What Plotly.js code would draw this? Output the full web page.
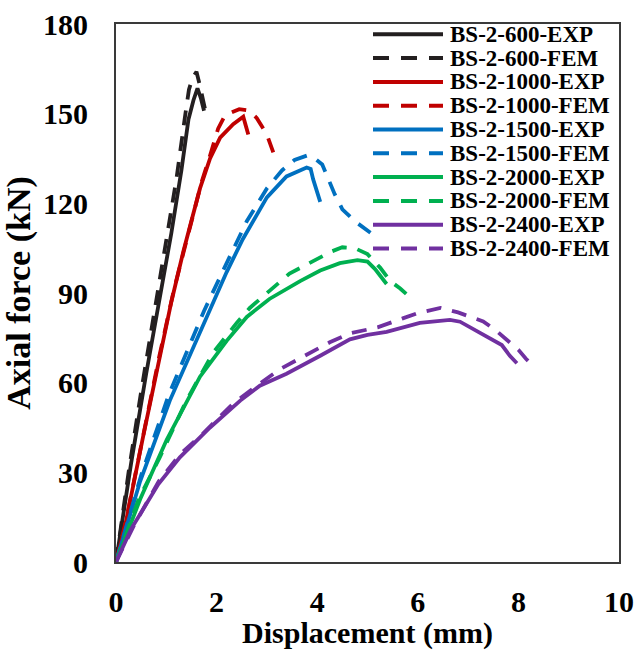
<!DOCTYPE html>
<html><head><meta charset="utf-8">
<script src="https://cdn.plot.ly/plotly-3.0.1.min.js"></script>
<style>html,body{margin:0;padding:0;background:#fff}</style>
</head><body><div id="chart" style="width:635px;height:650px"></div>
<script>
// ---- data (Displacement mm, Axial force kN) ----
const bs600ExpX = [0, 0.3, 0.6, 0.85, 1.1, 1.3, 1.44, 1.54, 1.62, 1.69, 1.75];
const bs600ExpY = [0, 33, 63, 86, 110, 131, 148, 154.5, 158.5, 155, 151];
const bs600FemX = [0, 0.25, 0.5, 0.78, 1.0, 1.2, 1.38, 1.45, 1.52, 1.6, 1.66, 1.72, 1.79];
const bs600FemY = [0, 30, 57, 85, 107, 128, 150, 158, 162, 164, 160, 155, 150];

const bs1000ExpX = [0, 0.18, 0.54, 0.81, 1.1, 1.34, 1.67, 1.87, 2.07, 2.33, 2.53, 2.58, 2.63];
const bs1000ExpY = [0, 12, 42, 64, 87, 104, 125, 135, 142, 146.5, 149, 146, 143];
const bs1000FemX = [0, 0.2, 0.55, 0.85, 1.15, 1.45, 1.7, 1.87, 2.03, 2.17, 2.45, 2.65, 2.8, 3.0, 3.17];
const bs1000FemY = [0, 14, 43, 68, 91, 111, 127, 136, 145, 149.5, 151.5, 151, 148.5, 143, 135];

const bs1500ExpX = [0, 0.48, 1.07, 1.77, 2.2, 2.52, 3.0, 3.39, 3.79, 3.87, 3.92, 4.06];
const bs1500ExpY = [0, 27, 54, 81, 97, 108, 122, 129, 132, 131.5, 128, 120.5];
const bs1500FemX = [0, 0.5, 1.05, 1.75, 2.2, 2.6, 3.0, 3.3, 3.55, 3.8, 3.95, 4.1, 4.2, 4.35, 4.5, 4.75, 5.15];
const bs1500FemY = [0, 29, 56, 84, 100, 114, 125, 131, 134.5, 136, 135, 133, 129, 123, 118, 114, 109];

const bs2000ExpX = [0, 0.48, 1.01, 1.67, 2.2, 2.6, 3.05, 3.66, 4.06, 4.45, 4.8, 5.0, 5.15, 5.38];
const bs2000ExpY = [0, 21, 41, 62, 74, 82, 88, 94, 97.5, 100, 101, 100.5, 98, 93];
const bs2000FemX = [0, 0.45, 0.87, 1.4, 1.93, 2.4, 2.66, 3.0, 3.45, 3.9, 4.3, 4.5, 4.75, 5.0, 5.25, 5.45, 5.65, 5.85];
const bs2000FemY = [0, 21, 35, 54, 70, 80, 85, 90, 96.5, 100.5, 104, 105.3, 105, 103, 98.5, 94, 91.5, 88.5];

const bs2400ExpX = [0, 0.3, 0.84, 1.27, 1.87, 2.47, 2.86, 3.39, 4.06, 4.65, 5.0, 5.38, 6.04, 6.64, 6.84, 7.24, 7.67, 7.83, 7.97];
const bs2400ExpY = [0, 11, 26, 35, 45, 54, 59, 63, 69, 74.5, 76, 77, 80, 81, 80.4, 76.5, 72.6, 69, 66.5];
const bs2400FemX = [0, 0.35, 0.85, 1.27, 1.67, 2.33, 2.8, 3.26, 3.72, 4.25, 4.65, 5.2, 5.7, 6.0, 6.45, 6.8, 7.05, 7.3, 7.55, 7.8, 8.0, 8.15, 8.33];
const bs2400FemY = [0, 12, 27, 36, 42, 53, 59, 64.5, 68.7, 73.5, 76.5, 78.5, 81.5, 83.3, 85, 83.5, 82, 80.5, 77.5, 74, 71, 68, 65];

const seriesNames = ['BS-2-600-EXP','BS-2-600-FEM','BS-2-1000-EXP','BS-2-1000-FEM','BS-2-1500-EXP','BS-2-1500-FEM','BS-2-2000-EXP','BS-2-2000-FEM','BS-2-2400-EXP','BS-2-2400-FEM'];
const seriesX = [bs600ExpX, bs600FemX, bs1000ExpX, bs1000FemX, bs1500ExpX, bs1500FemX, bs2000ExpX, bs2000FemX, bs2400ExpX, bs2400FemX];
const seriesY = [bs600ExpY, bs600FemY, bs1000ExpY, bs1000FemY, bs1500ExpY, bs1500FemY, bs2000ExpY, bs2000FemY, bs2400ExpY, bs2400FemY];
const seriesColors = ['#231f20','#231f20','#c00000','#c00000','#0070c0','#0070c0','#00b050','#00b050','#7030a0','#7030a0'];
const seriesDash = ['solid','15px,11px','solid','15px,11px','solid','15px,11px','solid','15px,11px','solid','15px,11px'];

const xTicks = [0, 2, 4, 6, 8, 10];
const yTicks = [0, 30, 60, 90, 120, 150, 180];

const FONT = 'Liberation Serif, Times New Roman, serif';

const traces = seriesNames.map((n, i) => ({
  type: 'scatter', mode: 'lines', name: n,
  x: seriesX[i], y: seriesY[i],
  line: {color: seriesColors[i], width: 3.8, dash: seriesDash[i]},
  showlegend: false
}));

// custom legend (text + swatches) placed in paper coords
const legTop = (562 - 34.3) / 538, legStep = 23.8 / 538;
const swX0 = (373 - 116) / 503, swX1 = (443 - 116) / 503, txX = (449 - 116) / 503;
const shapes = [], annotations = [];
seriesNames.forEach((n, i) => {
  const yy = legTop - i * legStep;
  shapes.push({type: 'line', xref: 'paper', yref: 'paper', x0: swX0, x1: swX1, y0: yy, y1: yy,
    line: {color: seriesColors[i], width: 4, dash: seriesDash[i] === 'solid' ? 'solid' : '16px,12px'}});
  annotations.push({xref: 'paper', yref: 'paper', x: txX, y: yy, xanchor: 'left', yanchor: 'middle',
    text: n, showarrow: false, borderpad: 0,
    font: {family: FONT, size: 23, color: '#000', weight: 'bold'}});
});

const layout = {
  width: 635, height: 650,
  margin: {l: 116, r: 16, t: 24, b: 88},
  paper_bgcolor: '#fff', plot_bgcolor: '#fff',
  showlegend: false,
  xaxis: {
    range: [0, 10], tickvals: xTicks, ticktext: xTicks.map(String),
    showgrid: false, zeroline: false, showline: true, mirror: true,
    linecolor: '#3a3a3a', linewidth: 2, ticks: '',
    ticklabelstandoff: 12,
    tickfont: {family: FONT, size: 30, color: '#000', weight: 'bold'},
    title: {text: 'Displacement (mm)', standoff: 0, font: {family: FONT, size: 30, color: '#000', weight: 'bold'}}
  },
  yaxis: {
    range: [0, 180], tickvals: yTicks, ticktext: yTicks.map(String),
    showgrid: false, zeroline: false, showline: true, mirror: true,
    linecolor: '#3a3a3a', linewidth: 2, ticks: '',
    ticklabelstandoff: 20,
    tickfont: {family: FONT, size: 30, color: '#000', weight: 'bold'},
    title: {text: 'Axial force (kN)', standoff: 2, font: {family: FONT, size: 34, color: '#000', weight: 'bold'}}
  },
  shapes: shapes,
  annotations: annotations
};

Plotly.newPlot('chart', traces, layout, {displayModeBar: false, staticPlot: true});
</script>
</body></html>
